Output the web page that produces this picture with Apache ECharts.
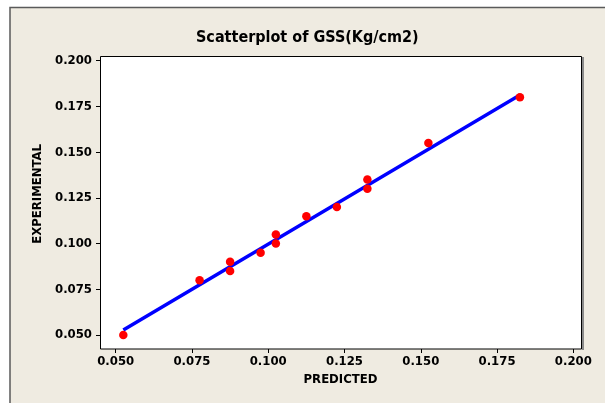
<!DOCTYPE html>
<html>
<head>
<meta charset="utf-8">
<script src="https://cdn.jsdelivr.net/npm/echarts@6/dist/echarts.min.js"></script>
<style>
html,body{margin:0;padding:0;background:#fff;}
#c{width:605px;height:403px;}
</style>
</head>
<body>
<div id="c"></div>
<script>
var predicted = [0.0525, 0.0775, 0.0875, 0.0875, 0.0975, 0.1025, 0.1025, 0.1125, 0.1225, 0.1325, 0.1325, 0.1525, 0.1825];
var experimental = [0.050, 0.080, 0.090, 0.085, 0.095, 0.105, 0.100, 0.115, 0.120, 0.135, 0.130, 0.155, 0.180];
var fitX = [0.0525, 0.1825];
var fitY = [0.0527, 0.1813];
var tickValues = [0.050, 0.075, 0.100, 0.125, 0.150, 0.175, 0.200];

var chart = echarts.init(document.getElementById('c'), null, {renderer: 'canvas'});
var font = '"DejaVu Sans Condensed", "DejaVu Sans", Verdana, sans-serif';
var pts = predicted.map(function (p, i) { return [p, experimental[i]]; });
var fit = fitX.map(function (x, i) { return [x, fitY[i]]; });

chart.setOption({
  backgroundColor: '#ffffff',
  animation: false,
  title: {
    text: 'Scatterplot of GSS(Kg/cm2)',
    left: 196,
    top: 30,
    padding: 0,
    textStyle: {fontFamily: font, fontWeight: 'bold', fontSize: 16, color: '#000'}
  },
  graphic: [
    {type: 'rect', z: -10, shape: {x: 10, y: 7.5, width: 700, height: 500},
     style: {fill: '#EFEBE1', stroke: '#5a5a5a', lineWidth: 1.5}},
    {type: 'rect', z: -9, shape: {x: 100.5, y: 56.5, width: 481, height: 292.5},
     style: {fill: '#ffffff', stroke: '#000000', lineWidth: 1}},
    {type: 'line', z: -9, shape: {x1: 583, y1: 57, x2: 583, y2: 350},
     style: {stroke: '#8a8a8a', lineWidth: 2}}
  ],
  grid: {left: 115.7, right: 31.7, top: 60.7, bottom: 68},
  xAxis: {
    type: 'value',
    min: tickValues[0], max: tickValues[tickValues.length - 1], interval: 0.025,
    offset: 14,
    name: 'PREDICTED', nameLocation: 'middle', nameGap: 23,
    nameTextStyle: {fontFamily: font, fontWeight: 'bold', fontSize: 13, color: '#000', padding: [0, 8, 0, 0]},
    axisLine: {show: false},
    axisTick: {show: true, length: 4, lineStyle: {color: '#000'}},
    splitLine: {show: false},
    axisLabel: {margin: 6, fontFamily: font, fontWeight: 'bold', fontSize: 13, color: '#000',
      formatter: function (v) { return v.toFixed(3); }}
  },
  yAxis: {
    type: 'value',
    min: tickValues[0], max: tickValues[tickValues.length - 1], interval: 0.025,
    offset: 15.7,
    name: 'EXPERIMENTAL', nameLocation: 'middle', nameGap: 55,
    nameTextStyle: {fontFamily: font, fontWeight: 'bold', fontSize: 13, color: '#000', padding: [0, 0, 0, 8]},
    axisLine: {show: false},
    axisTick: {show: true, length: 4, lineStyle: {color: '#000'}},
    splitLine: {show: false},
    axisLabel: {margin: 8, fontFamily: font, fontWeight: 'bold', fontSize: 13, color: '#000',
      formatter: function (v) { return v.toFixed(3); }}
  },
  series: [
    {type: 'line', data: fit, symbol: 'none', z: 2,
     lineStyle: {color: '#0000FF', width: 3.5}},
    {type: 'scatter', data: pts, symbol: 'circle', symbolSize: 8.5, z: 3,
     itemStyle: {color: '#FF0000', opacity: 1}}
  ]
});
</script>
</body>
</html>
